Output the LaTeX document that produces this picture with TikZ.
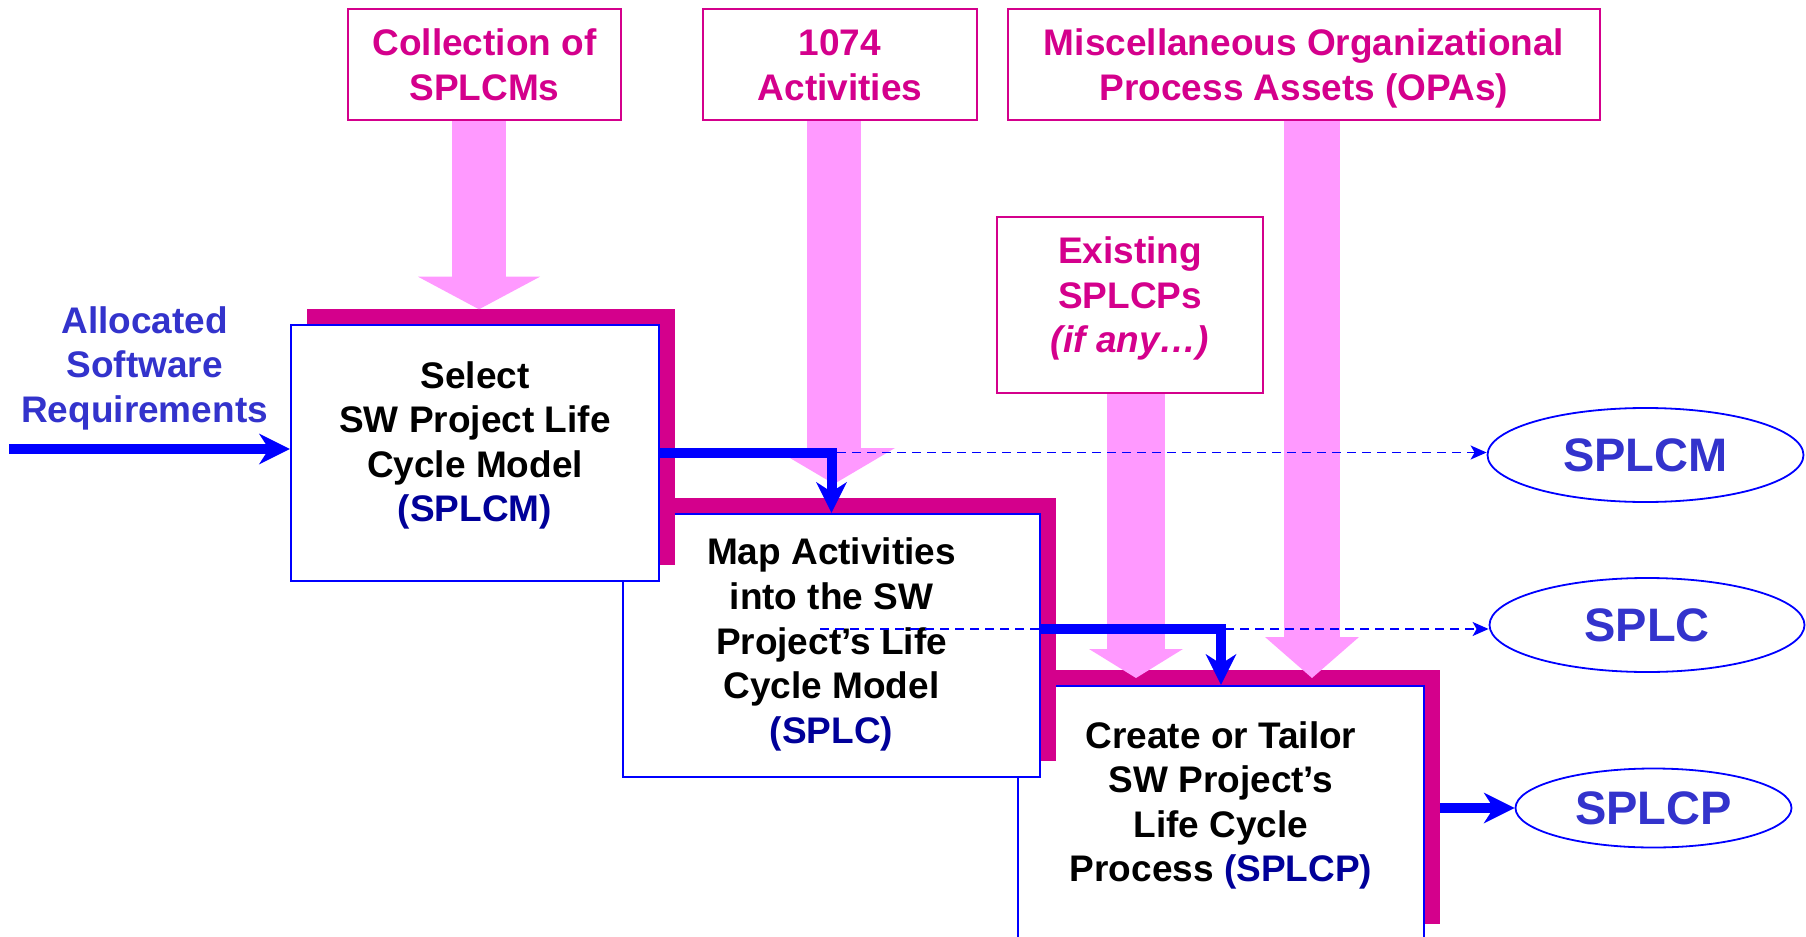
\documentclass[tikz,border=0pt]{standalone}
\usepackage{fontspec}
\setmainfont{Liberation Sans}
\usetikzlibrary{arrows.meta,shapes.geometric}

\definecolor{opamagenta}{RGB}{212,0,140}
\definecolor{feedpink}{RGB}{255,153,255}
\definecolor{flowblue}{RGB}{0,0,255}
\definecolor{labelblue}{RGB}{51,51,204}
\definecolor{acronym}{RGB}{0,0,153}

\newcommand\acr[1]{{\color{acronym}#1}}

\tikzset{
  bodyfont/.style={font=\bfseries\fontsize{18.5pt}{22.3pt}\selectfont},
  assetbox/.style={draw=opamagenta, line width=1.1pt, fill=white, inner sep=0pt},
  assettext/.style={bodyfont, text=opamagenta, align=center, inner sep=0pt},
  stepshade/.style={fill=opamagenta, inner sep=0pt, outer sep=0pt},
  stepbox/.style={draw=flowblue, line width=1.1pt, fill=white, inner sep=0pt},
  steptext/.style={bodyfont, text=black, align=center, inner sep=0pt},
  product/.style={ellipse, draw=flowblue, line width=0.9pt, fill=white, inner sep=0pt,
    text=labelblue, font=\bfseries\fontsize{23.5pt}{28pt}\selectfont},
  feed/.style={draw=feedpink, line cap=butt},
  flow/.style={draw=flowblue, line width=5pt,
    -{Stealth[length=15.5pt, width=15.5pt, inset=5pt, line width=0pt 0 0]}},
  tracelink/.style={draw=flowblue, line width=0.8pt, dash pattern=on 4.5pt off 3pt,
    -{Stealth[length=8pt, width=7pt, inset=2pt]}},
}

\begin{document}
\begin{tikzpicture}[x=0.5pt, y=-0.5pt]
\useasboundingbox (0,0) rectangle (1806,937);
\fill[white] (0,0) rectangle (1806,937);

% organisational inputs
\node[assetbox, minimum width=136.5pt, minimum height=55.5pt] (src1) at (484.5,64.5) {};
\node[assettext] (src1t) at (484.5,65) {Collection of\\SPLCMs};
\node[assetbox, minimum width=137pt, minimum height=55.5pt] (src2) at (840,64.5) {};
\node[assettext] (src2t) at (840,65.3) {1074\\Activities};
\node[assetbox, minimum width=296pt, minimum height=55.5pt] (src3) at (1304,64.5) {};
\node[assettext] (src3t) at (1304,68.5) {Miscellaneous Organizational\\Process Assets (OPAs)};
\node[assetbox, minimum width=133pt, minimum height=88pt] (src4) at (1130,305) {};
\node[assettext] (src4t) at (1130,298.5) {Existing\\SPLCPs\\{\itshape (if any…)}};

% process steps, drawn back to front
\node[stepshade, minimum width=203pt, minimum height=127pt] (s3) at (1237,797) {};
\node[stepbox, minimum width=203pt, minimum height=127pt] (b3) at (1221,813) {};
\node[steptext] (t3) at (1221,805.5) {Create or Tailor\\SW Project’s\\Life Cycle\\Process \acr{(SPLCP)}};

\node[stepshade, minimum width=208.5pt, minimum height=131.5pt] (s2) at (847.5,629.5) {};
\node[stepbox, minimum width=208.5pt, minimum height=131.5pt] (b2) at (831.5,645.5) {};
\node[steptext] (t2) at (831.5,644.5) {Map Activities\\into the SW\\Project’s Life\\Cycle Model\\\acr{(SPLC)}};

\node[stepshade, minimum width=184pt, minimum height=128pt] (s1) at (491,437) {};
\node[stepbox, minimum width=184pt, minimum height=128pt] (b1) at (475,453) {};
\node[steptext] (t1) at (475,445.5) {Select\\SW Project Life\\Cycle Model\\\acr{(SPLCM)}};

% work products
\node[product, minimum width=158pt, minimum height=47pt] (out1) at (1645.5,455) {SPLCM};
\node[product, minimum width=157.5pt, minimum height=47pt] (out2) at (1647,625) {SPLC};
\node[product, minimum width=138pt, minimum height=39.5pt] (out3) at (1653.5,808) {SPLCP};

% wide feed arrows from the assets
\coordinate (tipA) at (479,309.3);
\coordinate (tipB) at (834,484);
\coordinate (tipC) at (1312,678);
\coordinate (tipD) at (1136,678);
\draw[feed, line width=27pt, -{Triangle[length=16.3pt, width=61pt, line width=0pt 0 0]}]
  (src1.south -| tipA) -- (tipA);
\draw[feed, line width=27pt, -{Triangle[length=18pt, width=61pt, line width=0pt 0 0]}]
  (src2.south -| tipB) -- (tipB);
\draw[feed, line width=28pt, -{Triangle[length=20.5pt, width=47pt, line width=0pt 0 0]}]
  (src3.south -| tipC) -- (tipC);
\draw[feed, line width=29pt, -{Triangle[length=14.5pt, width=47pt, line width=0pt 0 0]}]
  (src4.south -| tipD) -- (tipD);

% requirement input and the flow between steps
\node[bodyfont, text=labelblue, align=center, inner sep=0pt] (req) at (144.6,368.3)
  {Allocated\\Software\\Requirements};
\coordinate (reqin) at (9,449);
\draw[flow] (reqin) -- (b1.west |- reqin);

\coordinate (j1) at (837,452.5);
\draw[tracelink] (j1) -- (out1.west |- j1);
\draw[flow] (b1.east |- j1) -| (b2.north);

\coordinate (j2) at (820,629);
\draw[tracelink] (j2) -- (out2.west |- j2);
\draw[flow] (b2.east |- j2) -| (b3.north);

\draw[flow] (s3.east |- out3.west) -- (out3.west);
\end{tikzpicture}
\end{document}
